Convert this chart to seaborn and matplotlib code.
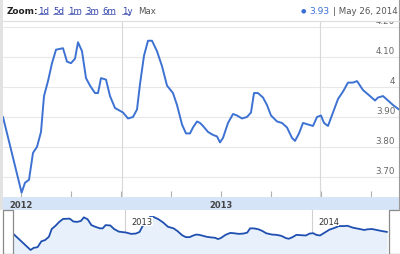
import matplotlib
matplotlib.use("Agg")
import matplotlib.pyplot as plt
import matplotlib.transforms as mtransforms
from matplotlib.patches import Rectangle
from matplotlib.lines import Line2D
import seaborn as sns
import pandas as pd

# ---------------- data ----------------
t_years = [2011.910, 2012.003, 2012.020, 2012.040, 2012.060, 2012.080, 2012.100, 2012.115,
           2012.135, 2012.155, 2012.175, 2012.210, 2012.230, 2012.250, 2012.270, 2012.285,
           2012.305, 2012.325, 2012.345, 2012.370, 2012.385, 2012.400, 2012.425, 2012.445,
           2012.470, 2012.510, 2012.535, 2012.560, 2012.580, 2012.595, 2012.615, 2012.635,
           2012.655, 2012.680, 2012.705, 2012.730, 2012.760, 2012.780, 2012.805, 2012.825,
           2012.845, 2012.860, 2012.880, 2012.895, 2012.910, 2012.935, 2012.960, 2012.980,
           2012.995, 2013.010, 2013.035, 2013.060, 2013.080, 2013.105, 2013.130, 2013.150,
           2013.165, 2013.185, 2013.210, 2013.230, 2013.250, 2013.280, 2013.305, 2013.330,
           2013.355, 2013.370, 2013.390, 2013.410, 2013.435, 2013.460, 2013.480, 2013.500,
           2013.515, 2013.535, 2013.560, 2013.585, 2013.610, 2013.635, 2013.660, 2013.680,
           2013.710, 2013.745, 2013.770, 2013.785, 2013.810, 2013.835, 2013.860, 2013.890]
values = [3.900, 3.647, 3.680, 3.690, 3.780, 3.800, 3.850, 3.970,
          4.020, 4.080, 4.125, 4.130, 4.085, 4.080, 4.095, 4.150,
          4.120, 4.030, 4.005, 3.980, 3.980, 4.030, 4.025, 3.970,
          3.930, 3.915, 3.895, 3.900, 3.925, 4.010, 4.105, 4.155,
          4.155, 4.120, 4.070, 4.005, 3.980, 3.940, 3.875, 3.845,
          3.845, 3.865, 3.885, 3.880, 3.870, 3.850, 3.840, 3.835,
          3.815, 3.830, 3.880, 3.910, 3.905, 3.895, 3.900, 3.915,
          3.980, 3.980, 3.965, 3.940, 3.905, 3.885, 3.880, 3.865,
          3.830, 3.820, 3.845, 3.880, 3.875, 3.870, 3.900, 3.905,
          3.880, 3.870, 3.915, 3.960, 3.985, 4.015, 4.015, 4.020,
          3.990, 3.970, 3.955, 3.965, 3.970, 3.955, 3.940, 3.925]

y_ticks = [3.70, 3.80, 3.90, 4.00, 4.10, 4.20]
y_tick_labels = ["3.70", "3.80", "3.90", "4", "4.10", "4.20"]
quarter_ticks = [2012.0, 2012.25, 2012.5, 2012.75, 2013.0, 2013.25, 2013.5, 2013.75]
band_labels = ["2012", "2013"]
band_pos = [2012.0, 2013.0]
nav_labels = ["2013", "2014"]
nav_pos = [2012.505, 2013.495]
zoom_links = ["1d", "5d", "1m", "3m", "6m", "1y"]
last_value = "3.93"
last_date = "May 26, 2014"

# ---------------- style ----------------
sns.set_style("white")
plt.rcParams["font.family"] = ["DejaVu Sans"]

W, H = 400, 255
fig = plt.figure(figsize=(4, 2.55), dpi=100)
fig.patch.set_facecolor("white")


def ax_px(x0, y0, x1, y1):
    return fig.add_axes([x0 / W, 1 - y1 / H, (x1 - x0) / W, (y1 - y0) / H])


def fx(px):
    return px / W


def fy(py):
    return 1 - py / H


XLIM = (2011.91, 2013.895)
df = pd.DataFrame({"t": t_years, "v": values})

# ---------------- main chart ----------------
main = ax_px(3, 22, 400, 198)
main.set_facecolor("white")
for yv in y_ticks:
    main.axhline(yv, color="#e8e8e8", lw=0.8, zorder=0)
for xv in nav_pos:
    main.axvline(xv, color="#d8d8d8", lw=0.8, zorder=0)
sns.lineplot(data=df, x="t", y="v", ax=main, color="#3d72d3", lw=1.4,
             solid_joinstyle="round", solid_capstyle="round", zorder=3)
main.set_xlim(*XLIM)
main.set_ylim(3.6324, 4.221)
main.set_xlabel("")
main.set_ylabel("")
main.set_yticks([])
main.set_xticks(quarter_ticks)
main.tick_params(axis="x", direction="in", length=4, width=0.8, color="#b0b0b0",
                 labelbottom=False, bottom=True)
for s in main.spines.values():
    s.set_visible(False)
lab_tr = mtransforms.offset_copy(
    mtransforms.blended_transform_factory(main.transAxes, main.transData),
    fig=fig, x=0, y=1.5, units="points")
for yv, lab in zip(y_ticks, y_tick_labels):
    main.text(0.988, yv, lab, transform=lab_tr, ha="right", va="bottom",
              fontsize=6.3, color="#666666", clip_on=True, zorder=4)

# ---------------- year band ----------------
band = ax_px(3, 198, 400, 211)
band.set_facecolor("#d5e4f7")
band.set_xlim(*XLIM)
band.set_ylim(0, 1)
band.set_xticks([])
band.set_yticks([])
for s in band.spines.values():
    s.set_visible(False)
for xv, lab in zip(band_pos, band_labels):
    band.text(xv, 0.45, lab, ha="center", va="center", fontsize=6,
              color="#444444", fontweight="bold")

# ---------------- navigator ----------------
nav = ax_px(13, 211, 388, 255)
nav.set_facecolor("white")
nav.fill_between(t_years, values, 3.585, color="#e8f1fb", lw=0, zorder=1)
for xv in nav_pos:
    nav.axvline(xv, color="#d0d0d0", lw=0.8, zorder=0)
sns.lineplot(data=df, x="t", y="v", ax=nav, color="#1f4fb0", lw=1.3,
             solid_joinstyle="round", zorder=3)
nav.set_xlim(*XLIM)
nav.set_ylim(3.585, 4.263)
nav.set_xlabel("")
nav.set_ylabel("")
nav.set_yticks([])
nav.set_xticks(quarter_ticks[1:])
nav.tick_params(axis="x", direction="in", length=3, width=0.8, color="#bbbbbb",
                labelbottom=False)
nav.set_xticks(nav_pos, minor=True)
nav.tick_params(axis="x", which="minor", direction="in", length=5, width=0.9,
                color="#444444")
for s in nav.spines.values():
    s.set_visible(False)
for xv, lab in zip(nav_pos, nav_labels):
    nav.annotate(lab, xy=(xv, 0.74), xycoords=("data", "axes fraction"),
                 xytext=(4, 0), textcoords="offset points", ha="left", va="center",
                 fontsize=6, color="#333333", zorder=5,
                 bbox=dict(boxstyle="square,pad=0.05", fc="white", ec="none"))

# handles / borders
fig.add_artist(Rectangle((fx(3), fy(255)), fx(10), (255 - 211) / H,
                         transform=fig.transFigure, fc="white", ec="#8a8a8a", lw=0.9))
fig.add_artist(Rectangle((fx(389), fy(255)), fx(12), (255 - 211) / H,
                         transform=fig.transFigure, fc="white", ec="#8a8a8a", lw=0.9))
fig.add_artist(Rectangle((0, fy(211)), fx(2.6), 211 / H, transform=fig.transFigure,
                         fc="#e2e2e2", ec="none"))
fig.add_artist(Line2D([fx(399), fx(399)], [fy(211), 1], transform=fig.transFigure,
                      color="#9a9a9a", lw=0.8))

# ---------------- header ----------------
fig.add_artist(Rectangle((fx(2.6), fy(22)), fx(396), 22 / H, transform=fig.transFigure,
                         fc="white", ec="none"))
fig.add_artist(Line2D([fx(2.6), fx(399)], [fy(22), fy(22)], transform=fig.transFigure,
                      color="#dddddd", lw=0.8))
fig.text(fx(7), fy(11), "Zoom:", fontsize=6.4, fontweight="bold", color="#222222",
         ha="left", va="center")
link_x = [38, 53, 68, 85, 102, 122]
link_w = [10, 10, 12, 12, 13, 8]
for lx, lw_, lab in zip(link_x, link_w, zoom_links):
    fig.text(fx(lx), fy(11), lab, fontsize=6.2, color="#3344aa", ha="left", va="center")
    fig.add_artist(Line2D([fx(lx), fx(lx + lw_)], [fy(15), fy(15)],
                          transform=fig.transFigure, color="#3344aa", lw=0.5))
fig.text(fx(138), fy(11), "Max", fontsize=6.2, color="#555555", ha="left", va="center")
fig.text(fx(303), fy(11), "\u25CF", fontsize=4.5, color="#3a6fd6", ha="center", va="center")
fig.text(fx(309), fy(11), last_value, fontsize=6.6, color="#3a6fd6", ha="left", va="center")
fig.text(fx(333), fy(11), "| " + last_date, fontsize=6.2, color="#555555", ha="left",
         va="center")

fig.savefig("out.png", dpi=100, facecolor="white")
